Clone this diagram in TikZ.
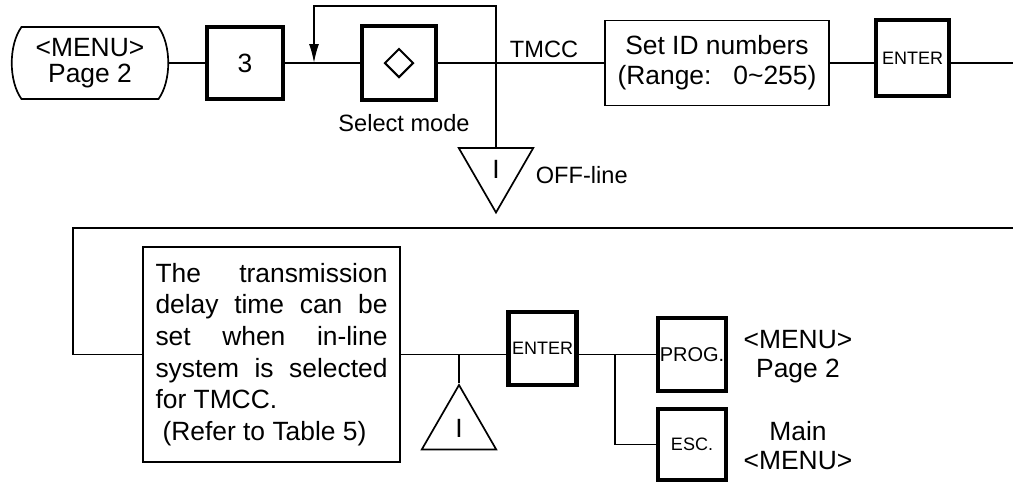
\documentclass[tikz,border=0pt]{standalone}
\usepackage{fontspec}
\setmainfont{Liberation Sans}
\usetikzlibrary{shapes.geometric,arrows.meta}
\begin{document}
\begin{tikzpicture}[
    x=0.5pt, y=-0.5pt,
    line width=0.85pt,
    every node/.style={font=\fontsize{13.2}{15}\selectfont, inner sep=0pt},
    keybox/.style={draw, line width=2.2pt, minimum width=34pt, minimum height=36.3pt, font=\fontsize{9}{11}\selectfont},
    lbl/.style={font=\fontsize{11.8}{14}\selectfont},
    tri/.style={draw, regular polygon, regular polygon sides=3, minimum size=43pt},
    loop arrow/.style={-{Latex[length=9.5pt,width=5pt]}}
  ]
  \useasboundingbox (0,0) rectangle (1013,484);

  \node[minimum width=68.5pt, minimum height=36pt, outer sep=0pt, align=center, font=\fontsize{13.2}{12.9}\selectfont] (menuA) at (90,63) {<MENU>\\Page 2};
  \draw (menuA.north west) -- (menuA.north east)
    .. controls +(13,18) and +(13,-18) .. (menuA.south east)
    -- (menuA.south west)
    .. controls +(-13,-18) and +(-13,18) .. (menuA.north west) -- cycle;
  \node[keybox, minimum width=37.8pt, minimum height=35.8pt, font=\fontsize{13.2}{15}\selectfont] (box3) at (245,63) {3};
  \node[keybox, minimum size=36.8pt] (selmode) at (399,63) {};
  \node[diamond, draw, line width=1pt, minimum size=14.5pt] (dia) at (selmode.center) {};
  \node[lbl, anchor=base] (selmodelbl) at (404,131) {Select mode};
  \node[lbl, anchor=base] (tmcc) at (544,57) {TMCC};
  \node[draw, align=center, minimum width=112.2pt, minimum height=42.6pt] (setid) at (717,63) {Set ID numbers\\(Range:\ \ \ 0\textasciitilde 255)};
  \node[keybox, minimum width=36.3pt, minimum height=37.8pt] (enterA) at (912.5,58) {ENTER};
  \node[tri, shape border rotate=180] (offtri) at (496,169.5) {I};
  \node[lbl, anchor=base west] (offlbl) at (535,183) {OFF-line};

  \coordinate (loopin) at (314,63);
  \coordinate (jn) at (496,63);
  \coordinate (looptop) at (496,6);
  \coordinate (rtop) at (1013,63);

  \draw ([xshift=4.5pt]menuA.east) -- (box3);
  \draw (box3) -- (selmode);
  \draw (selmode) -- (setid);
  \draw[loop arrow] (jn) -- (looptop) -| (loopin);
  \draw (jn) -- (offtri.north);
  \draw (setid) -- (setid.east -| enterA.west);
  \draw (enterA.east |- setid.east) -- (rtop);

  \coordinate (rbot) at (1013,228);
  \coordinate (lbot) at (73,228);
  \node[draw, text width=116pt, align=justify, inner sep=6.25pt, minimum height=107.5pt, font=\fontsize{13.2}{15.85}\selectfont] (note) at (271.5,354.5)
    {The transmission\linebreak delay time can be\linebreak set when in-line\linebreak system is selected\linebreak for TMCC.\newline\hspace*{3.5pt}(Refer to Table 5)};
  \node[tri] (ontri) at (459,428) {I};
  \node[keybox] (enterB) at (542.5,348.5) {ENTER};
  \node[keybox, minimum width=33.8pt, font=\fontsize{10}{12}\selectfont] (prog) at (692,354.5) {PROG.};
  \node[keybox, minimum width=33.8pt, minimum height=35.3pt] (esc) at (692,444.5) {ESC.};
  \node[anchor=north, align=center, font=\fontsize{13.2}{14.5}\selectfont] (menuB) at (798,329) {<MENU>\\Page 2};
  \node[anchor=north, align=center, font=\fontsize{13.2}{14.5}\selectfont] (mainmenu) at (798,421) {Main\\<MENU>};
  \coordinate (br) at (615,354.5);

  \draw (rbot) -- (lbot) |- (note.west);
  \draw (note.east) -- (note.east -| enterB.west);
  \draw (ontri.north) -- (ontri.north |- note.east);
  \draw (enterB.east |- prog.west) -- (prog.west);
  \draw (br) |- (esc.west);
\end{tikzpicture}
\end{document}
